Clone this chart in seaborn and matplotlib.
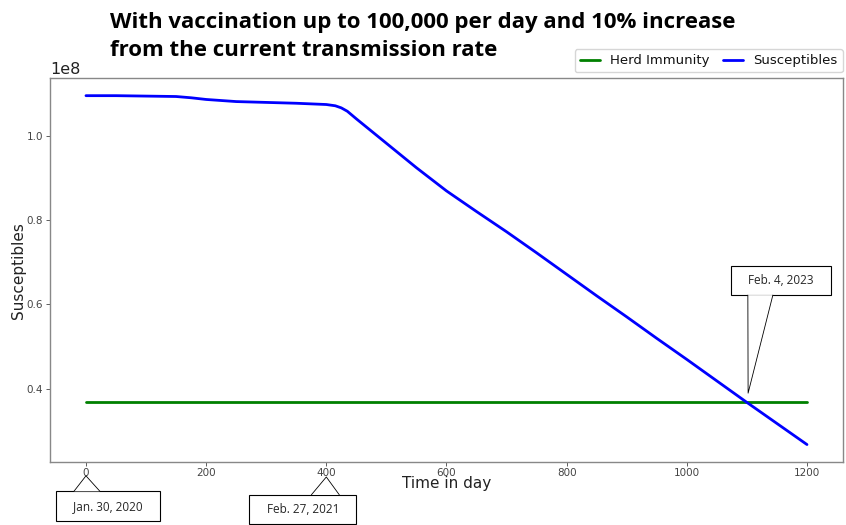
import numpy as np
import pandas as pd
import matplotlib
matplotlib.use("Agg")
import matplotlib.pyplot as plt
from matplotlib.patches import Polygon
from matplotlib.transforms import IdentityTransform, blended_transform_factory
import seaborn as sns

# Data (people, days since Jan. 30, 2020)
days = [0, 50, 100, 150, 175, 200, 250, 300, 350, 400, 415, 425, 435, 450, 500, 550, 600,
        650, 700, 750, 800, 850, 900, 950, 1000, 1050, 1100, 1150, 1200]
susceptibles = [1.095, 1.095, 1.094, 1.093, 1.090, 1.086, 1.081, 1.079, 1.077, 1.074, 1.071,
                1.066, 1.058, 1.040, 0.982, 0.924, 0.869, 0.820, 0.772, 0.722, 0.671, 0.620,
                0.570, 0.519, 0.469, 0.418, 0.367, 0.317, 0.267]
susceptibles = [v * 1e8 for v in susceptibles]
herd_immunity = 0.367e8

date_labels = ["Jan. 30, 2020", "Feb. 27, 2021", "Feb. 4, 2023"]
date_days = [0, 400, 1102]

df = pd.DataFrame({"day": days, "Susceptibles": susceptibles,
                   "Herd Immunity": [herd_immunity] * len(days)})

sns.set_style("white")
fig = plt.figure(figsize=(8.46, 5.25), dpi=100)
ax = fig.add_axes([0.059, 0.12, 0.9375, 0.731])

sns.lineplot(data=df, x="day", y="Herd Immunity", color="green", lw=2,
             label="Herd Immunity", ax=ax)
sns.lineplot(data=df, x="day", y="Susceptibles", color="blue", lw=2,
             label="Susceptibles", ax=ax)

ax.set_xlim(-60, 1260)
ax.set_xticks([0, 200, 400, 600, 800, 1000, 1200])
ax.set_yticks([0.4e8, 0.6e8, 0.8e8, 1.0e8])
ax.tick_params(axis="both", labelsize=7.5, labelcolor="#444444", color="#444444",
               length=3, width=0.6, bottom=True, left=True)
ax.tick_params(axis="x", pad=1)
ax.tick_params(axis="y", pad=2)
ax.yaxis.get_offset_text().set_fontsize(11.5)
ax.yaxis.get_offset_text().set_color("#222222")
for s in ax.spines.values():
    s.set_color("#888888")
    s.set_linewidth(1)

ax.set_xlabel("Time in day", fontsize=11, color="#222222")
ax.set_ylabel("Susceptibles", fontsize=11, color="#222222")
ax.xaxis.set_label_coords(0.5, -0.036)
ax.yaxis.set_label_coords(-0.03, 0.5)

leg = ax.legend(loc="lower right", bbox_to_anchor=(1.0, 1.015), ncol=2, fontsize=9.5,
                frameon=True, borderaxespad=0, handlelength=1.5, columnspacing=1.0)
for t in leg.get_texts():
    t.set_color("#111111")

fig.text(0.13, 0.93, "With vaccination up to 100,000 per day and 10% increase\nfrom the current transmission rate",
         fontsize=16, fontweight="bold", family="Open Sans", ha="left", va="center",
         linespacing=1.45, color="black")

# callout boxes: text, box centre (figure fraction), tip (x data, y axes fraction or data),
# base of the pointer as fractions along the box edge, which edge
box = dict(boxstyle="square,pad=0.7", fc="white", ec="black", lw=0.8)
xa = blended_transform_factory(ax.transData, ax.transAxes)
callouts = [
    (date_labels[0], (0.128, 0.036), (date_days[0], -0.036), xa, (0.17, 0.42), "top"),
    (date_labels[1], (0.358, 0.0295), (date_days[1], -0.039), xa, (0.58, 0.84), "top"),
    (date_labels[2], (0.923, 0.466), (date_days[2], 0.389e8), ax.transData, (0.17, 0.42), "bottom"),
]
texts = []
for label, pos, tip, tr, base, edge in callouts:
    t = fig.text(pos[0], pos[1], "   " + label + "   ", ha="center", va="center",
                 fontsize=8.5, family="Open Sans", bbox=box, zorder=5)
    texts.append(t)

fig.canvas.draw()
renderer = fig.canvas.get_renderer()
for t, (label, pos, tip, tr, base, edge) in zip(texts, callouts):
    bb = t.get_bbox_patch().get_window_extent(renderer)
    ey = bb.y1 if edge == "top" else bb.y0
    tx, ty = tr.transform(tip)
    b0 = (bb.x0 + base[0] * bb.width, ey)
    b1 = (bb.x0 + base[1] * bb.width, ey)
    fig.add_artist(Polygon([b0, (tx, ty), b1], closed=True, fc="white", ec="none",
                           transform=IdentityTransform(), zorder=6))
    fig.add_artist(plt.Line2D([b0[0], tx, b1[0]], [b0[1], ty, b1[1]], color="black", lw=0.6,
                              transform=IdentityTransform(), zorder=7))

fig.savefig("out.png", dpi=100)
